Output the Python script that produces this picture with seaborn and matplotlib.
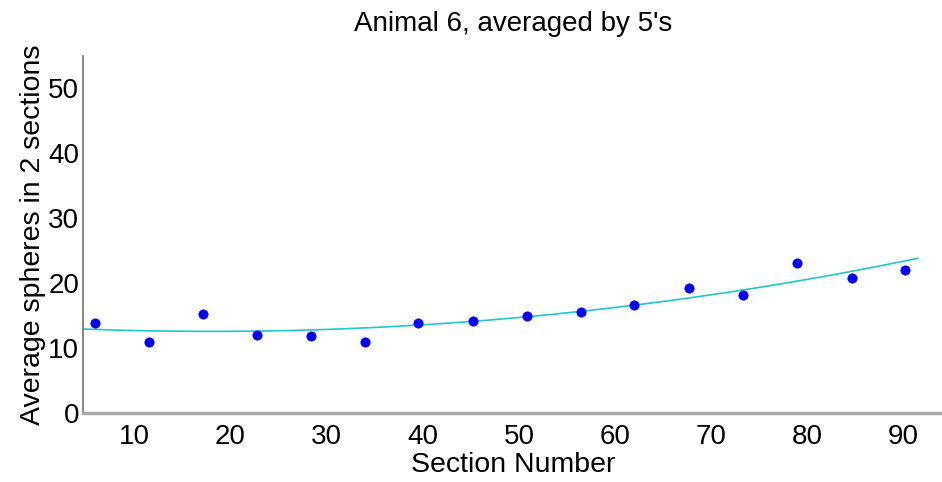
import numpy as np
import pandas as pd
import seaborn as sns
import matplotlib.pyplot as plt

# section number (centre of each group of 5) and averaged sphere counts
section = [5.9, 11.5, 17.1, 22.7, 28.4, 34.0, 39.5, 45.2, 50.8, 56.5,
           62.0, 67.7, 73.3, 78.9, 84.6, 90.1]
spheres = [13.9, 11.0, 15.2, 12.0, 11.9, 11.0, 13.9, 14.2, 15.0, 15.5,
           16.7, 19.2, 18.2, 23.1, 20.8, 22.1]
xticks = [10, 20, 30, 40, 50, 60, 70, 80, 90]
yticks = [0, 10, 20, 30, 40, 50]

df = pd.DataFrame({'section': section, 'spheres': spheres})

# quadratic trend line fitted to the averaged points
coef = np.polyfit(df['section'], df['spheres'], 2)
fit_x = np.linspace(4.7, 91.5, 200)
fit = pd.DataFrame({'section': fit_x, 'spheres': np.polyval(coef, fit_x)})

sns.set_style('white')
plt.rcParams['font.family'] = ['Liberation Sans', 'DejaVu Sans']
plt.rcParams['text.color'] = 'black'
plt.rcParams['axes.labelcolor'] = 'black'

fig = plt.figure(figsize=(9.42, 4.82), dpi=100)
ax = fig.add_axes([0.0886, 0.143, 0.9114, 0.741])

sns.lineplot(data=fit, x='section', y='spheres', color='#20c8c8', linewidth=1.2, ax=ax)
sns.scatterplot(data=df, x='section', y='spheres', color='#0000ff', s=45,
                edgecolor='#0000ff', linewidth=0.5, ax=ax, zorder=3)

ax.set_xlim(4.7, 94.0)
ax.set_ylim(0, 55)
ax.set_xticks(xticks)
ax.set_yticks(yticks)
ax.set_title("Animal 6, averaged by 5's", fontsize=20, pad=18, color='black')
ax.set_xlabel('Section Number', fontsize=20.5, labelpad=1)
ax.set_ylabel('Average spheres in 2 sections', fontsize=20.5, labelpad=2)
ax.tick_params(axis='both', labelsize=20, direction='in', colors='#555555',
               labelcolor='black', length=6, width=1)
ax.tick_params(axis='x', pad=8)
ax.tick_params(axis='y', pad=3, length=8)

for side in ['top', 'right']:
    ax.spines[side].set_visible(False)
ax.spines['left'].set_color('#707070')
ax.spines['left'].set_linewidth(1.2)
ax.spines['bottom'].set_color('#a8a8a8')
ax.spines['bottom'].set_linewidth(2.5)

fig.savefig('out.png', dpi=100)
